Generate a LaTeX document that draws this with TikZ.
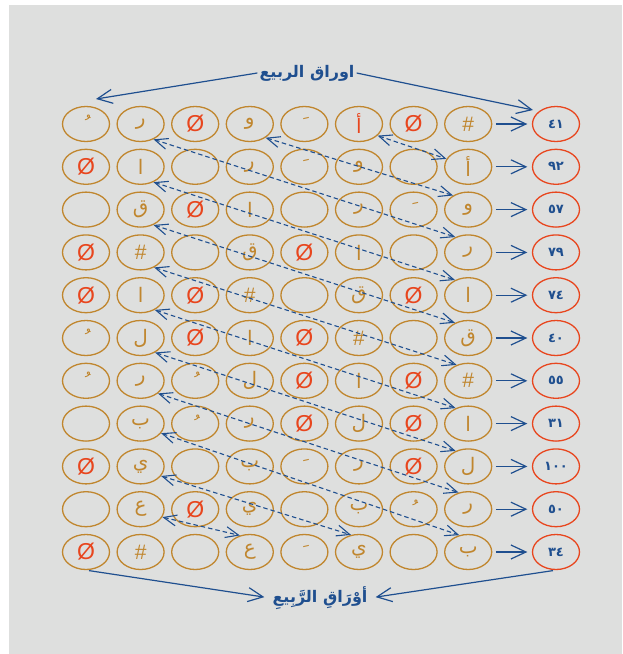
\documentclass[tikz,border=0pt]{standalone}
\usepackage{fontspec}
\usetikzlibrary{shapes.geometric,arrows.meta}
\setmainfont{DejaVu Sans}
\newfontfamily\arabicfont[Script=Arabic]{DejaVu Sans}
\newfontfamily\symfont{Liberation Sans}
\TeXXeTstate=1
\definecolor{bg}{HTML}{DEDFDE}
\definecolor{brn}{HTML}{C0862E}
\definecolor{zred}{HTML}{E8461E}
\definecolor{nblue}{HTML}{1F4F8F}
\newcommand\nul{{\symfont\fontsize{23}{23}\selectfont\color{zred}Ø}}
\newcommand\hs{{\symfont\fontsize{21}{21}\selectfont\#}}
\newcommand\df{\char"00A0\char"064E}
\newcommand\dd{\char"00A0\char"064F}
\newcommand\ra[1]{{\color{zred}#1}}
\newcommand\cellrow[2]{%
  \foreach \t [count=\i] in {#2} {%
    \node[cell] (c#1-\i) at ({86+(\i-1)*54.6},{124+(#1-1)*42.8}) {\t};
  }%
}
\begin{document}
\begin{tikzpicture}[x=1pt,y=-1pt,
  cell/.style={ellipse,draw=brn,line width=1.3pt,minimum width=47pt,minimum height=35pt,inner sep=0pt,text=brn,font=\arabicfont\fontsize{20}{21}\selectfont},
  numcell/.style={ellipse,draw=zred,line width=1.3pt,minimum width=47pt,minimum height=35pt,inner sep=0pt,text=nblue,font=\arabicfont\bfseries\fontsize{13}{14}\selectfont},
  sarr/.style={draw=nblue,line width=1.2pt,-{Straight Barb[length=15pt,width=14pt,line width=1.2pt]}},
  darr/.style={draw=nblue,line width=1.1pt,dash pattern=on 4.5pt off 3pt,{Straight Barb[length=13pt,width=11pt,line width=1.1pt]}-{Straight Barb[length=13pt,width=11pt,line width=1.1pt]}},
  ttl/.style={text=nblue,font=\arabicfont\bfseries\fontsize{16}{18}\selectfont,inner sep=2pt}]
\useasboundingbox (0,0) rectangle (622,654);
\fill[bg] (9,5) rectangle (622,654);
% grid
\cellrow{1}{\dd,ر,\nul,و,\df,\ra{أ},\nul,\hs}
\cellrow{2}{\nul,ا,{},ر,\df,و,{},أ}
\cellrow{3}{{},ق,\nul,ا,{},ر,\df,و}
\cellrow{4}{\nul,\hs,{},ق,\nul,ا,{},ر}
\cellrow{5}{\nul,ا,\nul,\hs,{},ق,\nul,ا}
\cellrow{6}{\dd,ل,\nul,ا,\nul,\hs,{},ق}
\cellrow{7}{\dd,ر,\dd,ل,\nul,ا,\nul,\hs}
\cellrow{8}{{},ب,\dd,ر,\nul,ل,\nul,ا}
\cellrow{9}{\nul,ي,{},ب,\df,ر,\nul,ل}
\cellrow{10}{{},ع,\nul,ي,{},ب,\dd,ر}
\cellrow{11}{\nul,\hs,{},ع,\df,ي,{},ب}
% numbers
\foreach \r/\n in {1/٤١,2/٩٢,3/٥٧,4/٧٩,5/٧٤,6/٤٠,7/٥٥,8/٣١,9/١٠٠,10/٥٠,11/٣٤} {
  \node[numcell] (n\r) at (556,{124+(\r-1)*42.8}) {\n};
  \draw[sarr,shorten <=3.5pt,shorten >=4.5pt] (c\r-8.east) -- (n\r.west);
}
% dashed diagonal links
\foreach \a/\sa/\b/\ta in {c1-2/-50/c4-8/130,c2-2/-50/c5-8/131,c3-2/-50/c6-8/131,c4-2/-48/c7-8/126,c5-2/-46/c8-8/129,c6-2/-45/c9-8/129,c7-2/-36/c10-8/120,c8-2/-25/c11-8/118,c1-4/-41/c3-8/137,c1-6/-32/c2-8/160,c9-2/-25/c11-6/115,c10-2/-20/c11-4/121} {
  \draw[darr] (\a.\sa) -- (\b.\ta);
}
% titles
\node[ttl] (title) at (307,73) {\beginR اوراق الربيع\endR};
\node[ttl] (btitle) at (320,598) {\beginR أوْرَاقِ الرَّبِيعِ\endR};
\coordinate (tl) at (96,99);
\coordinate (tr) at (533,110);
\draw[sarr] (title.west) -- (tl);
\draw[sarr] (title.east) -- (tr);
\draw[sarr,shorten <=3pt,shorten >=6pt] (c11-1.south) -- (btitle.west);
\draw[sarr,shorten <=3pt,shorten >=6pt] (n11.south) -- (btitle.east);
\end{tikzpicture}
\end{document}
